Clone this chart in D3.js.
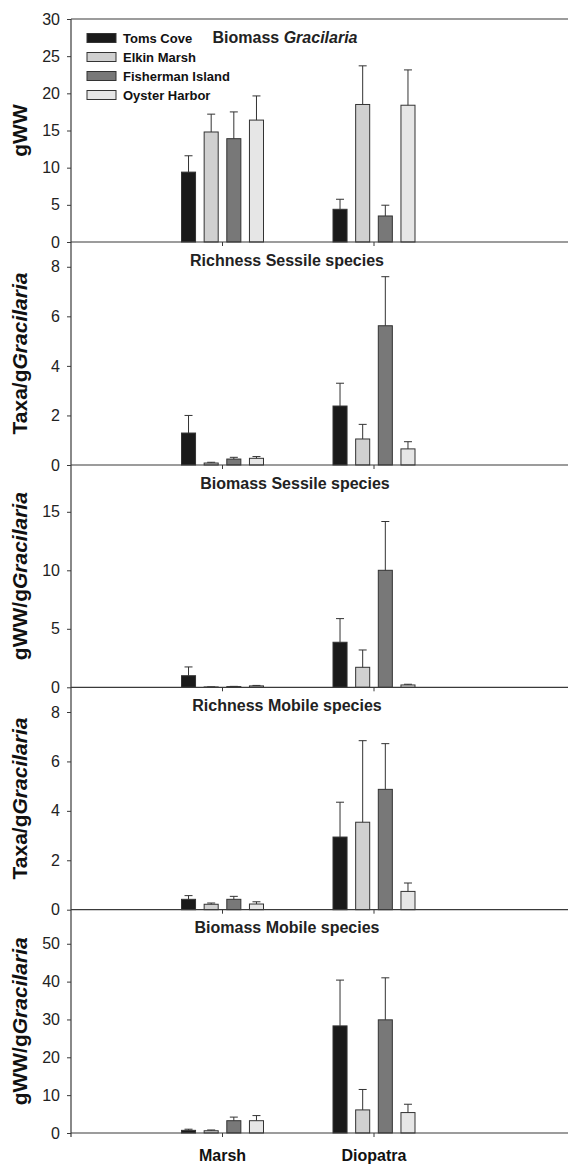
<!DOCTYPE html>
<html><head><meta charset="utf-8">
<script src="https://cdn.jsdelivr.net/npm/d3@7"></script>
<style>
html,body{margin:0;padding:0;background:#fff;}
svg{display:block;font-family:"Liberation Sans",Arial,sans-serif;}
</style></head>
<body>
<script>
// ---------- data ----------
const categories = ["Marsh", "Diopatra"];
const sites = ["Toms Cove", "Elkin Marsh", "Fisherman Island", "Oyster Harbor"];
const siteColors = ["#1a1a1a", "#d0d0d0", "#787878", "#e6e6e6"];

// rows = site, cols = [Marsh, Diopatra]
const biomassGracilariaMean = [[9.4, 4.4], [14.8, 18.5], [13.9, 3.5], [16.4, 18.4]];
const biomassGracilariaSE   = [[2.2, 1.35], [2.4, 5.2], [3.6, 1.45], [3.25, 4.75]];

const richnessSessileMean = [[1.29, 2.38], [0.08, 1.05], [0.24, 5.62], [0.27, 0.65]];
const richnessSessileSE   = [[0.71, 0.92], [0.03, 0.59], [0.07, 1.98], [0.07, 0.29]];

const biomassSessileMean = [[0.99, 3.85], [0.03, 1.71], [0.06, 10.0], [0.12, 0.2]];
const biomassSessileSE   = [[0.75, 2.02], [0.01, 1.48], [0.02, 4.17], [0.04, 0.06]];

const richnessMobileMean = [[0.42, 2.94], [0.22, 3.54], [0.42, 4.87], [0.23, 0.74]];
const richnessMobileSE   = [[0.15, 1.41], [0.05, 3.3], [0.12, 1.85], [0.09, 0.34]];

const biomassMobileMean = [[0.7, 28.3], [0.6, 6.1], [3.25, 29.9], [3.25, 5.4]];
const biomassMobileSE   = [[0.3, 12.1], [0.2, 5.4], [0.95, 11.1], [1.35, 2.2]];

const panelTitles = [["Biomass ", "Gracilaria"], ["Richness Sessile species", ""], ["Biomass Sessile species", ""], ["Richness Mobile species", ""], ["Biomass Mobile species", ""]];
const yTitles = [["gWW", ""], ["Taxa/g", "Gracilaria"], ["gWW/g", "Gracilaria"], ["Taxa/g", "Gracilaria"], ["gWW/g", "Gracilaria"]];
const yMax = [30, 9, 19, 9, 59];
const yTicks = [[0, 5, 10, 15, 20, 25, 30], [0, 2, 4, 6, 8], [0, 5, 10, 15], [0, 2, 4, 6, 8], [0, 10, 20, 30, 40, 50]];

const means = [biomassGracilariaMean, richnessSessileMean, biomassSessileMean, richnessMobileMean, biomassMobileMean];
const ses = [biomassGracilariaSE, richnessSessileSE, biomassSessileSE, richnessMobileSE, biomassMobileSE];

// ---------- layout ----------
const W = 568, H = 1164;
const axisX = 71, plotRight = 568;
const bounds = [19, 242, 465, 687.3, 909.7, 1133];
const titleX = [285, 287, 295, 287, 287];
const lineColor = "#3a3a3a";

const svg = d3.select("body").append("svg").attr("width", W).attr("height", H);

const x = d3.scalePoint().domain(categories).range([axisX, 525.5]).padding(1);
const xi = d3.scaleBand().domain(sites).range([-45.3, 45.3]).paddingInner(0.38).paddingOuter(0.19);

means.forEach((M, p) => {
  const top = bounds[p], bot = bounds[p + 1];
  const y = d3.scaleLinear().domain([0, yMax[p]]).range([bot, top]);
  const g = svg.append("g");

  // y axis ticks
  const ax = g.append("g").attr("transform", `translate(${axisX},0)`)
    .call(d3.axisLeft(y).tickValues(yTicks[p]).tickSize(4).tickSizeOuter(0).tickPadding(7));
  ax.select(".domain").remove();
  ax.selectAll(".tick line").attr("stroke", lineColor);
  ax.selectAll(".tick text").attr("fill", "#222").style("font-size", "16px").style("font-family", "'Liberation Sans',Arial,sans-serif");

  // bars
  const data = [];
  sites.forEach((s, si) => categories.forEach((c, ci) => data.push({ s, si, c, v: M[si][ci], e: ses[p][si][ci] })));
  const bw = xi.bandwidth();
  g.selectAll("rect.bar").data(data).join("rect")
    .attr("x", d => x(d.c) + xi(d.s))
    .attr("y", d => y(d.v))
    .attr("width", bw)
    .attr("height", d => y(0) - y(d.v))
    .attr("fill", d => siteColors[d.si])
    .attr("stroke", "#333").attr("stroke-width", 1);

  // error bars (upper only)
  const eb = g.selectAll("g.err").data(data).join("g");
  eb.append("line")
    .attr("x1", d => x(d.c) + xi(d.s) + bw / 2).attr("x2", d => x(d.c) + xi(d.s) + bw / 2)
    .attr("y1", d => y(d.v)).attr("y2", d => y(d.v + d.e))
    .attr("stroke", "#333").attr("stroke-width", 1);
  eb.append("line")
    .attr("x1", d => x(d.c) + xi(d.s) + bw / 2 - 4).attr("x2", d => x(d.c) + xi(d.s) + bw / 2 + 4)
    .attr("y1", d => y(d.v + d.e)).attr("y2", d => y(d.v + d.e))
    .attr("stroke", "#333").attr("stroke-width", 1);

  // baseline + x ticks
  g.append("line").attr("x1", axisX).attr("x2", plotRight).attr("y1", y(0)).attr("y2", y(0))
    .attr("stroke", lineColor).attr("stroke-width", 1.2);
  categories.forEach(c => {
    g.append("line").attr("x1", x(c)).attr("x2", x(c)).attr("y1", y(0)).attr("y2", y(0) + 4)
      .attr("stroke", lineColor).attr("stroke-width", 1);
  });

  // panel title
  const t = g.append("text").attr("x", titleX[p]).attr("y", top + 23.5)
    .attr("text-anchor", "middle").style("font-size", "16px").style("font-weight", "bold").attr("fill", "#222");
  t.append("tspan").text(panelTitles[p][0]);
  if (panelTitles[p][1]) t.append("tspan").style("font-style", "italic").text(panelTitles[p][1]);

  // y title
  const yt = g.append("text")
    .attr("transform", `translate(27,${(top + bot) / 2}) rotate(-90)`)
    .attr("text-anchor", "middle").style("font-size", "21px").style("font-weight", "bold").attr("fill", "#111");
  yt.append("tspan").text(yTitles[p][0]);
  if (yTitles[p][1]) yt.append("tspan").style("font-style", "italic").text(yTitles[p][1]);
});

// top frame line and y axis line
svg.append("line").attr("x1", axisX).attr("x2", plotRight).attr("y1", bounds[0]).attr("y2", bounds[0])
  .attr("stroke", lineColor).attr("stroke-width", 1.2);
svg.append("line").attr("x1", axisX).attr("x2", axisX).attr("y1", bounds[0]).attr("y2", bounds[5] + 4)
  .attr("stroke", lineColor).attr("stroke-width", 1.2);

// x category labels
categories.forEach(c => {
  svg.append("text").attr("x", x(c)).attr("y", 1161).attr("text-anchor", "middle")
    .style("font-size", "16px").style("font-weight", "bold").attr("fill", "#111").text(c);
});

// legend
const leg = svg.append("g");
sites.forEach((s, i) => {
  const yy = 38 + i * 19;
  leg.append("rect").attr("x", 87).attr("y", yy - 4.5).attr("width", 29).attr("height", 9)
    .attr("fill", siteColors[i]).attr("stroke", "#333").attr("stroke-width", 1);
  leg.append("text").attr("x", 123).attr("y", yy + 5).style("font-size", "13px").style("font-weight", "bold")
    .attr("fill", "#111").text(s);
});
</script>
</body></html>
